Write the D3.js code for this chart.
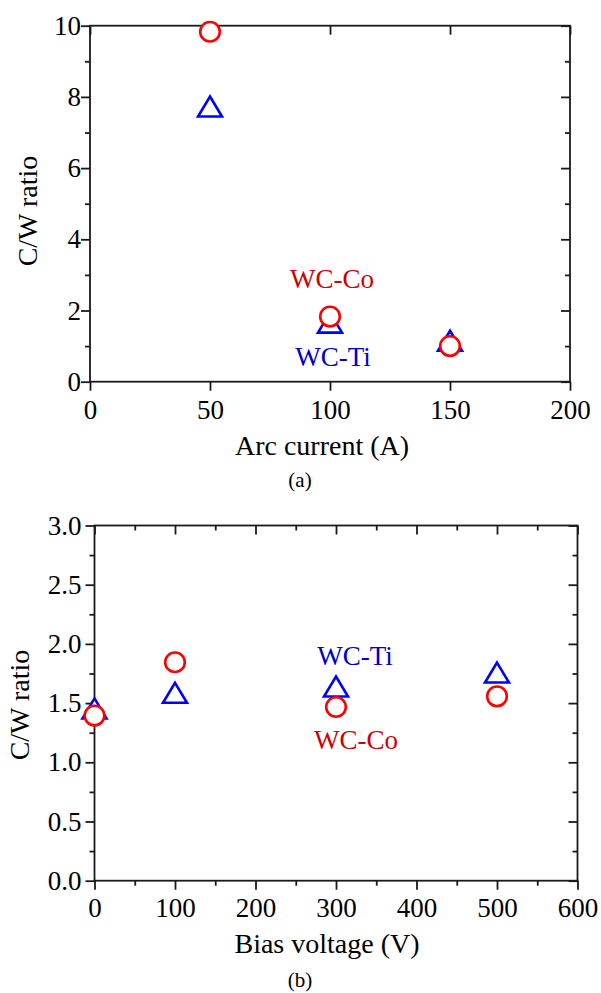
<!DOCTYPE html>
<html>
<head>
<meta charset="utf-8">
<script src="https://cdn.jsdelivr.net/npm/d3@7"></script>
<style>
  body { margin: 0; background: #fff; }
  svg { display: block; }
</style>
</head>
<body>
<div id="chart"></div>
<script>
// panel (a): C/W ratio vs arc current
const arcCurrent = [50, 100, 150];
const coArc = [9.83, 1.83, 1.0];     // WC-Co, circles
const tiArc = [7.73, 1.66, 1.15];    // WC-Ti, triangles

// panel (b): C/W ratio vs bias voltage
const biasVoltage = [0, 100, 300, 500];
const coBias = [1.395, 1.845, 1.467, 1.557];
const tiBias = [1.455, 1.587, 1.64, 1.758];

const xTicksA = [0, 50, 100, 150, 200];
const yTicksA = [0, 2, 4, 6, 8, 10];
const yMinorA = [1, 3, 5, 7, 9];
const xTicksB = [0, 100, 200, 300, 400, 500, 600];
const xMinorB = [50, 150, 250, 350, 450, 550];
const yTicksB = [0, 0.5, 1.0, 1.5, 2.0, 2.5, 3.0];
const yMinorB = [0.25, 0.75, 1.25, 1.75, 2.25, 2.75];

const RED = '#ff0000', RED_TEXT = '#d00000';
const BLUE = '#0000ff', BLUE_TEXT = '#0000cc';
const FONT = '"Liberation Serif", "Times New Roman", serif';

var svg = d3.select('#chart').append('svg')
    .attr('width', 601)
    .attr('height', 993);

// triangle centred on its bounding box
function triangle(cx, cy) {
    return `M${cx},${cy - 10}L${cx + 12},${cy + 10}L${cx - 12},${cy + 10}Z`;
}

function drawPanel(p) {
    const x = d3.scaleLinear().domain(p.xDomain).range([p.left, p.right]);
    const y = d3.scaleLinear().domain(p.yDomain).range([p.bottom, p.top]);
    const g = svg.append('g');

    function styleAxis(sel) {
        sel.select('.domain').remove();
        sel.selectAll('line').attr('stroke', '#1a1a1a').attr('stroke-width', 1.8);
        sel.selectAll('text').attr('fill', '#000')
            .style('font-family', FONT).style('font-size', '27px');
    }

    // bottom axis (labels) + top axis (inward)
    g.append('g').attr('transform', `translate(0,${p.bottom})`)
        .call(d3.axisBottom(x).tickValues(p.xTicks).tickSize(9).tickSizeOuter(0)
            .tickPadding(p.xPad).tickFormat(p.xFormat))
        .call(styleAxis);
    g.append('g').attr('transform', `translate(0,${p.top})`)
        .call(d3.axisTop(x).tickValues(p.xTicks).tickSize(-9).tickSizeOuter(0).tickFormat(''))
        .call(styleAxis);
    if (p.xMinor) {
        g.append('g').attr('transform', `translate(0,${p.bottom})`)
            .call(d3.axisBottom(x).tickValues(p.xMinor).tickSize(5).tickSizeOuter(0).tickFormat(''))
            .call(styleAxis);
        g.append('g').attr('transform', `translate(0,${p.top})`)
            .call(d3.axisTop(x).tickValues(p.xMinor).tickSize(-5).tickSizeOuter(0).tickFormat(''))
            .call(styleAxis);
    }

    // left axis (labels) + right axis (inward)
    g.append('g').attr('transform', `translate(${p.left},0)`)
        .call(d3.axisLeft(y).tickValues(p.yTicks).tickSize(9).tickSizeOuter(0)
            .tickPadding(p.yPad).tickFormat(p.yFormat))
        .call(styleAxis);
    g.append('g').attr('transform', `translate(${p.right},0)`)
        .call(d3.axisRight(y).tickValues(p.yTicks).tickSize(-9).tickSizeOuter(0).tickFormat(''))
        .call(styleAxis);
    g.append('g').attr('transform', `translate(${p.left},0)`)
        .call(d3.axisLeft(y).tickValues(p.yMinor).tickSize(5).tickSizeOuter(0).tickFormat(''))
        .call(styleAxis);
    g.append('g').attr('transform', `translate(${p.right},0)`)
        .call(d3.axisRight(y).tickValues(p.yMinor).tickSize(-5).tickSizeOuter(0).tickFormat(''))
        .call(styleAxis);

    // frame
    g.append('rect')
        .attr('x', p.left).attr('y', p.top)
        .attr('width', p.right - p.left).attr('height', p.bottom - p.top)
        .attr('fill', 'none').attr('stroke', '#1a1a1a').attr('stroke-width', 1.8);

    // triangles first, circles drawn over them
    g.selectAll('.tri').data(p.xs.map((v, i) => [v, p.ti[i]]))
        .enter().append('path')
        .attr('class', 'tri')
        .attr('d', d => triangle(x(d[0]), y(d[1])))
        .attr('fill', '#fff').attr('stroke', BLUE).attr('stroke-width', 2.6)
        .attr('stroke-linejoin', 'miter');

    g.selectAll('.circ').data(p.xs.map((v, i) => [v, p.co[i]]))
        .enter().append('circle')
        .attr('class', 'circ')
        .attr('cx', d => x(d[0])).attr('cy', d => y(d[1])).attr('r', 9.8)
        .attr('fill', '#fff').attr('stroke', RED).attr('stroke-width', 2.6);

    // axis titles
    g.append('text')
        .attr('x', p.xTitlePos[0]).attr('y', p.xTitlePos[1])
        .attr('text-anchor', 'middle')
        .style('font-family', FONT).style('font-size', '28px').attr('fill', '#000')
        .text(p.xTitle);
    g.append('text')
        .attr('transform', `translate(${p.yTitlePos[0]},${p.yTitlePos[1]}) rotate(-90)`)
        .attr('text-anchor', 'middle')
        .style('font-family', FONT).style('font-size', '28px').attr('fill', '#000')
        .text('C/W ratio');

    // series labels
    p.labels.forEach(l => {
        g.append('text')
            .attr('x', l.pos[0]).attr('y', l.pos[1])
            .attr('text-anchor', 'middle')
            .style('font-family', FONT).style('font-size', '27px')
            .attr('fill', l.color)
            .text(l.text);
    });

    // panel caption
    g.append('text')
        .attr('x', 300).attr('y', p.captionY)
        .attr('text-anchor', 'middle')
        .style('font-family', FONT).style('font-size', '21px').attr('fill', '#000')
        .text(p.caption);
}

drawPanel({
    xDomain: [0, 200], yDomain: [0, 10],
    left: 90, right: 570, top: 25.7, bottom: 381.7,
    xTicks: xTicksA, xMinor: null, yTicks: yTicksA, yMinor: yMinorA,
    xFormat: d3.format('d'), yFormat: d3.format('d'),
    xPad: 9.5, yPad: 0,
    xs: arcCurrent, co: coArc, ti: tiArc,
    xTitle: 'Arc current (A)', xTitlePos: [322, 455],
    yTitlePos: [37, 211],
    labels: [
        { text: 'WC-Co', color: RED_TEXT, pos: [332, 288] },
        { text: 'WC-Ti', color: BLUE_TEXT, pos: [333, 366] }
    ],
    caption: '(a)', captionY: 487
});

drawPanel({
    xDomain: [0, 600], yDomain: [0, 3],
    left: 94.5, right: 577.5, top: 525.5, bottom: 880.7,
    xTicks: xTicksB, xMinor: xMinorB, yTicks: yTicksB, yMinor: yMinorB,
    xFormat: d3.format('d'), yFormat: d3.format('.1f'),
    xPad: 8, yPad: 4,
    xs: biasVoltage, co: coBias, ti: tiBias,
    xTitle: 'Bias voltage (V)', xTitlePos: [327, 953],
    yTitlePos: [29, 705],
    labels: [
        { text: 'WC-Ti', color: BLUE_TEXT, pos: [355, 665] },
        { text: 'WC-Co', color: RED_TEXT, pos: [356, 749] }
    ],
    caption: '(b)', captionY: 987
});
</script>
</body>
</html>
